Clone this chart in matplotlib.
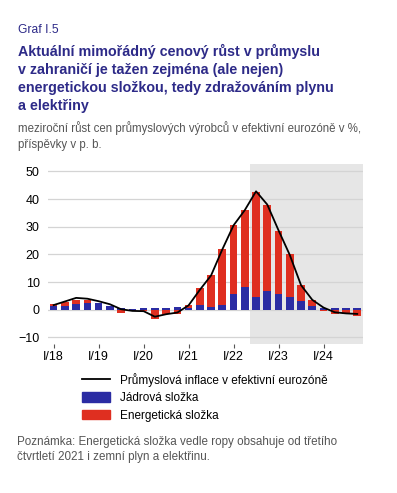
import numpy as np
import matplotlib
matplotlib.use("Agg")
import matplotlib.pyplot as plt
from matplotlib.lines import Line2D
from matplotlib.patches import Patch

plt.rcParams['font.family'] = ['Liberation Sans', 'DejaVu Sans']

# quarterly data I/18 .. IV/24
quarters = [f"{q}/{y}" for y in range(18, 25) for q in ["I", "II", "III", "IV"]]
core = [1.2, 1.3, 2.1, 2.3, 2.3, 1.3, 0.8, 0.2, 0.5, 0.6, 0.6, 0.9,
        0.8, 1.8, 1.0, 1.7, 5.6, 8.1, 4.5, 6.7, 5.6, 4.5, 3.0, 1.3,
        0.5, 0.7, 0.7, 0.7]
energy = [0.8, 1.4, 1.5, 1.1, 0.3, 0.0, -1.1, -0.5, -0.4, -3.3, -1.7, -1.7,
          0.9, 6.1, 11.7, 20.1, 24.9, 28.1, 38.0, 31.3, 22.8, 15.5, 5.8, 2.4,
          -0.6, -1.5, -1.7, -2.1]
inflation = [1.7, 3.0, 4.3, 4.0, 3.1, 2.0, 0.2, -0.4, -0.5, -2.5, -1.6, -1.0,
             1.6, 7.2, 12.4, 21.8, 30.5, 36.0, 42.8, 38.0, 28.7, 19.8, 8.9, 3.6,
             0.8, -0.9, -1.3, -1.5]
xlabels = {0: "I/18", 4: "I/19", 8: "I/20", 12: "I/21", 16: "I/22", 20: "I/23", 24: "I/24"}
forecast_start = 18

blue = "#2b2ca3"
red = "#df2f20"
navy = "#2d2a88"

fig = plt.figure(figsize=(3.97, 4.93), dpi=100)
ax = fig.add_axes([0.121, 0.302, 0.793, 0.365])

x = np.arange(len(quarters))
core = np.array(core)
energy = np.array(energy)
ax.axvspan(forecast_start - 0.5, len(quarters) - 0.5, color="#e6e6e6", zorder=0, lw=0)

# stacked so that positive parts pile up and negative go below zero
pos_base = np.where(core > 0, core, 0)
neg_base = np.where(core < 0, core, 0)
energy_bottom = np.where(energy >= 0, pos_base, neg_base)
ax.bar(x, core, width=0.68, color=blue, zorder=2)
ax.bar(x, energy, width=0.68, bottom=energy_bottom, color=red, zorder=2)
ax.plot(x, inflation, color="black", lw=1.3, zorder=3)

ax.set_xlim(-0.5, len(quarters) - 0.5)
ax.set_ylim(-12.4, 52.6)
ax.set_yticks(range(-10, 51, 10))
ax.yaxis.grid(True, color="#d4d4d4", lw=0.9)
ax.set_axisbelow(True)
ax.set_xticks(list(xlabels.keys()))
ax.set_xticklabels(list(xlabels.values()))
ax.tick_params(axis="y", length=0, labelsize=9, pad=6)
ax.tick_params(axis="x", length=3, color="#555555", labelsize=9, pad=2)
for s in ax.spines.values():
    s.set_visible(False)

fig.text(0.045, 0.939, "Graf I.5", color=navy, fontsize=8.7, va="center")
title = ["Aktuální mimořádný cenový růst v průmyslu",
         "v zahraničí je tažen zejména (ale nejen)",
         "energetickou složkou, tedy zdražováním plynu",
         "a elektřiny"]
for i, line in enumerate(title):
    fig.text(0.045, 0.895 - i * 0.0365, line, color=navy, fontsize=10.3,
             fontweight="bold", va="center")
fig.text(0.045, 0.74, "meziroční růst cen průmyslových výrobců v efektivní eurozóně v %,",
         color="#555555", fontsize=8.3, va="center")
fig.text(0.045, 0.706, "příspěvky v p. b.", color="#555555", fontsize=8.3, va="center")

handles = [Line2D([0], [0], color="black", lw=1.3),
           Patch(color=blue), Patch(color=red)]
labels = ["Průmyslová inflace v efektivní eurozóně", "Jádrová složka", "Energetická složka"]
fig.legend(handles, labels, loc="upper left", bbox_to_anchor=(0.195, 0.253),
           frameon=False, fontsize=8.5, handlelength=2.4, handleheight=0.9,
           handletextpad=0.8, labelspacing=0.45, borderaxespad=0)

fig.text(0.043, 0.104, "Poznámka: Energetická složka vedle ropy obsahuje od třetího",
         color="#555555", fontsize=8.4, va="center")
fig.text(0.043, 0.073, "čtvrtletí 2021 i zemní plyn a elektřinu.",
         color="#555555", fontsize=8.4, va="center")

fig.savefig("out.png", dpi=100)
